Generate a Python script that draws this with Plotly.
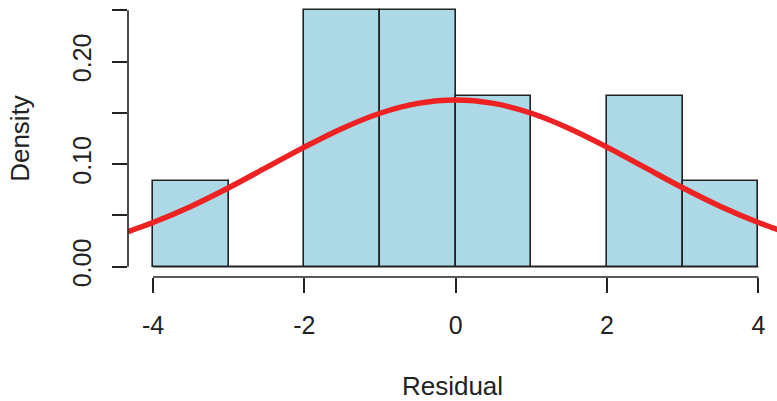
import plotly.graph_objects as go

# Histogram data (density per unit-width bin)
bin_edges = [-4, -3, -2, -1, 0, 1, 2, 3, 4]
densities = [0.0833, 0.0, 0.25, 0.25, 0.1667, 0.0, 0.1667, 0.0833]

# Fitted normal density curve
curve_x = [-4.33, -4.0, -3.5, -3.0, -2.5, -2.0, -1.5, -1.0, -0.5, 0.0,
           0.5, 1.0, 1.5, 2.0, 2.5, 3.0, 3.5, 4.0, 4.33]
curve_y = [0.0343, 0.0431, 0.0588, 0.0770, 0.0968, 0.1166, 0.1348, 0.1496, 0.1592, 0.1625,
           0.1592, 0.1496, 0.1348, 0.1166, 0.0968, 0.0770, 0.0588, 0.0431, 0.0343]

x_ticks = [-4, -2, 0, 2, 4]
y_ticks = [0.0, 0.05, 0.10, 0.15, 0.20, 0.25]
y_ticktext = ["0.00", "", "0.10", "", "0.20", ""]

centers = [(a + b) / 2 for a, b in zip(bin_edges[:-1], bin_edges[1:])]
widths = [b - a for a, b in zip(bin_edges[:-1], bin_edges[1:])]

FONT = "Liberation Sans, Arial, sans-serif"
LINE = "#222222"

fig = go.Figure()
# baseline drawn by zero-height bins in R
fig.add_trace(go.Scatter(x=[bin_edges[0], bin_edges[-1]], y=[0, 0], mode="lines",
                         line=dict(color=LINE, width=1.6), hoverinfo="skip", showlegend=False))
fig.add_trace(go.Bar(x=centers, y=densities, width=widths,
                     marker=dict(color="#ADD8E6", line=dict(color=LINE, width=1.6)),
                     showlegend=False))
fig.add_trace(go.Scatter(x=curve_x, y=curve_y, mode="lines", line_shape="spline",
                         line=dict(color="#EE2222", width=5.5), showlegend=False))

# R-style axis lines spanning first to last tick
fig.add_shape(type="line", xref="x", yref="paper", x0=x_ticks[0], x1=x_ticks[-1], y0=0, y1=0,
              line=dict(color=LINE, width=1.6))
fig.add_shape(type="line", xref="paper", yref="y", x0=0, x1=0, y0=y_ticks[0], y1=y_ticks[-1],
              line=dict(color=LINE, width=1.6))

TITLE_FONT = dict(family=FONT, size=26, color="#222222")

fig.update_layout(
    width=777, height=401,
    margin=dict(l=128, r=0, t=0, b=124),
    plot_bgcolor="white", paper_bgcolor="white",
    font=dict(family=FONT, size=25, color="#222222"),
    bargap=0,
    xaxis=dict(range=[-4.3304, 4.2464], tickvals=x_ticks, ticktext=[str(v) for v in x_ticks],
               ticks="outside", ticklen=15, tickwidth=1.6, tickcolor=LINE,
               showgrid=False, zeroline=False, showline=False,
               ticklabelstandoff=11,
               title=dict(text="Residual", standoff=41, font=TITLE_FONT)),
    yaxis=dict(range=[-0.01, 0.26], tickvals=y_ticks, ticktext=y_ticktext,
               ticks="outside", ticklen=15, tickwidth=1.6, tickcolor=LINE,
               tickangle=-90, showgrid=False, zeroline=False, showline=False,
               ticklabelstandoff=11,
               title=dict(text="Density", standoff=30, font=TITLE_FONT)),
)

fig.write_html("out.html", config={"displayModeBar": False},
               post_script="document.body.style.margin='0';document.body.style.overflow='hidden';")
